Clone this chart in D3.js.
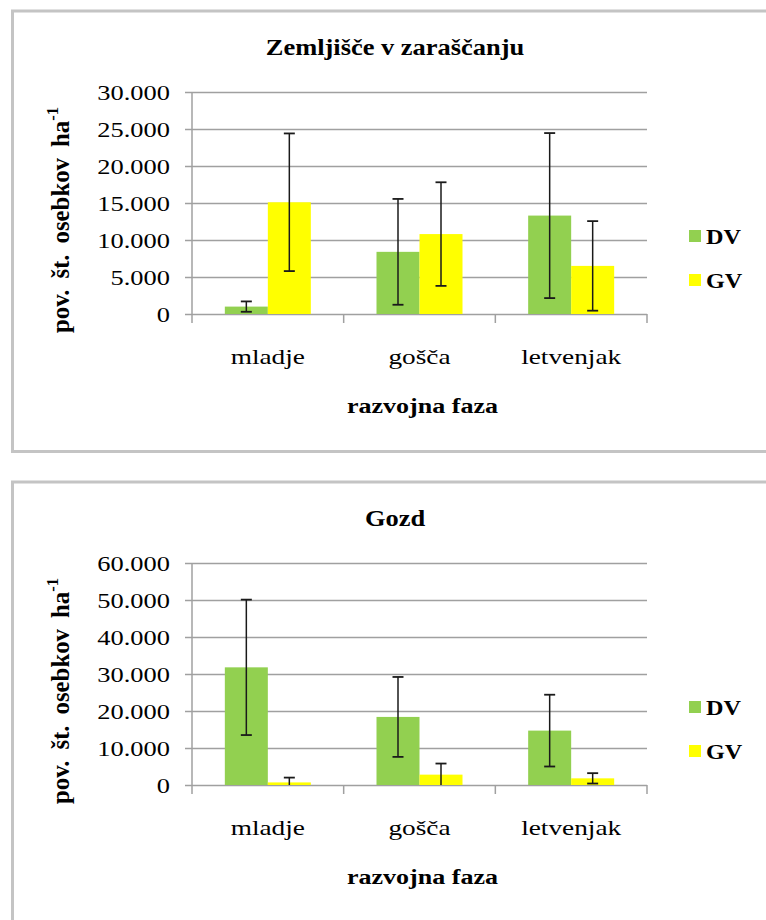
<!DOCTYPE html>
<html>
<head>
<meta charset="utf-8">
<script src="https://cdn.jsdelivr.net/npm/d3@7"></script>
<style>
	body { margin: 0; background: #fff; }
	svg { display: block; }
	text { font-family: "Liberation Serif", "Times New Roman", serif; fill: #000; }
</style>
</head>
<body>
<div id="chart"></div>
<script>
// data
var categories = ["mladje", "gošča", "letvenjak"];
var series = ["DV", "GV"];

var zemTicks = [0, 5000, 10000, 15000, 20000, 25000, 30000];
var zemDV    = [1000, 8400, 13300];
var zemDVerr = [700, 7150, 11150];
var zemGV    = [15100, 10800, 6500];
var zemGVerr = [9300, 7000, 6050];

var gozdTicks = [0, 10000, 20000, 30000, 40000, 50000, 60000];
var gozdDV    = [31800, 18400, 14700];
var gozdDVerr = [18300, 10800, 9700];
var gozdGV    = [700, 2800, 1800];
var gozdGVerr = [1300, 3000, 1400];

var seriesColor = d3.scaleOrdinal().domain(series).range(["#92d050", "#ffff00"]);

// slovene number format: 30.000
var fmt = d3.formatLocale({decimal: ",", thousands: ".", grouping: [3], currency: ["", " €"]}).format(",");

var svg = d3.select("#chart").append("svg")
	.attr("width", 766)
	.attr("height", 920);

var plotL = 192, plotR = 647;

var charts = [
	{title: "Zemljišče v zaraščanju", ticks: zemTicks, values: [zemDV, zemGV], errs: [zemDVerr, zemGVerr], top: 11},
	{title: "Gozd", ticks: gozdTicks, values: [gozdDV, gozdGV], errs: [gozdDVerr, gozdGVerr], top: 482}
];

//text with a horizontal stretch, the source picture is widened
function label(parent, x, y, str, size, weight, anchor, sx) {
	return parent.append("text")
		.attr("transform", "translate(" + x + "," + y + ") scale(" + sx + ",1)")
		.attr("font-size", size + "px")
		.attr("font-weight", weight)
		.attr("text-anchor", anchor)
		.text(str);
}

charts.forEach(function(c) {
	var g = svg.append("g");
	var plotTop = c.top + 81, plotBottom = plotTop + 222;

	// frame
	g.append("rect")
		.attr("x", 12.5)
		.attr("y", c.top)
		.attr("width", 800)
		.attr("height", c.top < 100 ? 440.5 : 500)
		.attr("fill", "none")
		.attr("stroke", "#c4c4c4")
		.attr("stroke-width", 3);

	var x0 = d3.scaleBand().domain(categories).range([plotL, plotR]).padding(0);
	var x1 = d3.scaleBand().domain(series)
		.range([x0.bandwidth() / 2 - 43, x0.bandwidth() / 2 + 43]);
	var y = d3.scaleLinear()
		.domain([0, d3.max(c.ticks)])
		.range([plotBottom, plotTop]);

	// y axis + gridlines
	var yAxisCall = d3.axisLeft(y)
		.tickValues(c.ticks)
		.tickFormat(fmt)
		.tickSizeInner(-(plotR - plotL))
		.tickSizeOuter(0);

	var yAxis = g.append("g")
		.attr("transform", "translate(" + plotL + ",0)")
		.attr("font-family", null)
		.call(yAxisCall);
	yAxis.select(".domain").remove();
	yAxis.selectAll(".tick line")
		.attr("x1", -7)
		.attr("stroke", "#a0a0a0")
		.attr("stroke-width", 1.5);
	yAxis.selectAll(".tick text")
		.attr("x", 0)
		.attr("dy", "0.34em")
		.attr("font-size", "21px")
		.attr("fill", "#111")
		.attr("transform", "translate(-22,0) scale(1.26,1)");

	g.append("line")
		.attr("x1", plotL).attr("x2", plotL)
		.attr("y1", plotTop).attr("y2", plotBottom + 9)
		.attr("stroke", "#a0a0a0")
		.attr("stroke-width", 1.5);

	// category boundary ticks
	g.selectAll(".cat-tick")
		.data(categories)
		.enter().append("line")
			.attr("class", "cat-tick")
			.attr("x1", function(d){ return x0(d) + x0.bandwidth(); })
			.attr("x2", function(d){ return x0(d) + x0.bandwidth(); })
			.attr("y1", plotBottom)
			.attr("y2", plotBottom + 9)
			.attr("stroke", "#a0a0a0")
			.attr("stroke-width", 1.5);

	// x axis labels
	var xAxis = g.append("g")
		.attr("transform", "translate(0," + plotBottom + ")")
		.call(d3.axisBottom(x0).tickSize(0));
	xAxis.attr("font-family", null);
	xAxis.select(".domain").remove();
	xAxis.selectAll(".tick text")
		.attr("y", 0)
		.attr("dy", 0)
		.attr("font-size", "21px")
		.attr("fill", "#111")
		.attr("transform", "translate(0,49.5) scale(1.3,1)");

	// bars
	series.forEach(function(s, i) {
		var rows = categories.map(function(cat, j) {
			return {cat: cat, v: c.values[i][j], e: c.errs[i][j]};
		});

		g.selectAll(".bar-" + s)
			.data(rows)
			.enter().append("rect")
				.attr("class", "bar-" + s)
				.attr("x", function(d){ return x0(d.cat) + x1(s); })
				.attr("width", x1.bandwidth())
				.attr("y", function(d){ return y(d.v); })
				.attr("height", function(d){ return y(0) - y(d.v); })
				.attr("fill", seriesColor(s));

		//error bars
		rows.forEach(function(d) {
			var cx = x0(d.cat) + x1(s) + x1.bandwidth() / 2;
			var hi = d.v + d.e, lo = Math.max(0, d.v - d.e);
			g.append("line")
				.attr("x1", cx).attr("x2", cx)
				.attr("y1", y(hi)).attr("y2", y(lo))
				.attr("stroke", "#1a1a1a").attr("stroke-width", 1.5);
			g.append("line")
				.attr("x1", cx - 5.5).attr("x2", cx + 5.5)
				.attr("y1", y(hi)).attr("y2", y(hi))
				.attr("stroke", "#1a1a1a").attr("stroke-width", 1.8);
			if (d.v - d.e > 0) {
				g.append("line")
					.attr("x1", cx - 5.5).attr("x2", cx + 5.5)
					.attr("y1", y(lo)).attr("y2", y(lo))
					.attr("stroke", "#1a1a1a").attr("stroke-width", 1.8);
			}
		});
	});

	// titles
	label(g, 395, c.top + 44, c.title, 23, "bold", "middle", 1.15);
	label(g, (plotL + plotR) / 2 + 3, plotBottom + 98.5, "razvojna faza", 21, "bold", "middle", 1.24);

	// y label, rotated
	var yl = g.append("g")
		.attr("transform", "translate(69," + (plotTop + 111 + 17) + ") rotate(-90)");
	var ylText = yl.append("text")
		.attr("font-size", "21px")
		.attr("font-weight", "bold")
		.attr("text-anchor", "middle")
		.attr("word-spacing", "4px");
	ylText.append("tspan").text("pov. št. osebkov ha");
	ylText.append("tspan").attr("font-size", "14px").attr("dy", -9).text("-1");
	var len = ylText.node().getComputedTextLength();
	ylText.attr("transform", "scale(" + (226 / len) + ",1.18)");

	// legend
	var legend = g.selectAll(".legend")
		.data(series)
		.enter().append("g")
			.attr("class", "legend")
			.attr("transform", function(d, i){
				return "translate(689," + (plotTop + 111 + 33 + i * 44) + ")";
			});
	legend.append("rect")
		.attr("x", 0).attr("y", -6)
		.attr("width", 12).attr("height", 12)
		.attr("fill", function(d){ return seriesColor(d); });
	legend.each(function(d) {
		label(d3.select(this), 17, 8, d, 22, "bold", "start", 1.1);
	});
});
</script>
</body>
</html>
